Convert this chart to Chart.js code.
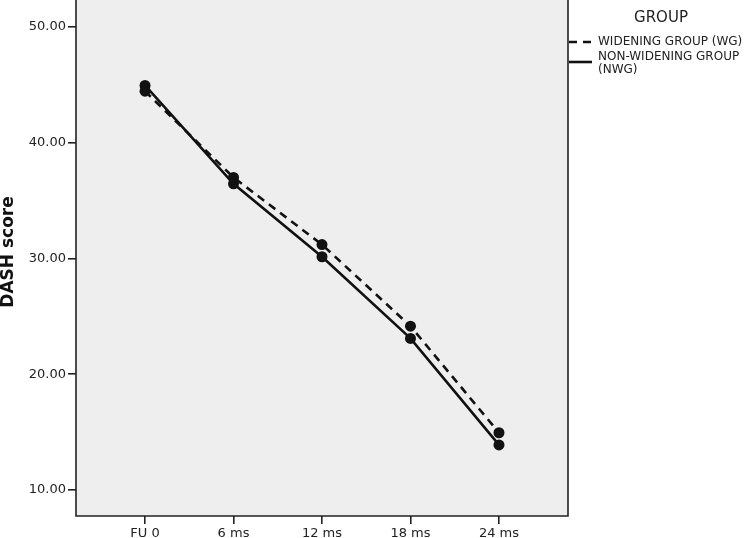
<!DOCTYPE html>
<html><head><meta charset="utf-8">
<script src="https://cdn.jsdelivr.net/npm/chart.js@4"></script>
<style>html,body{margin:0;padding:0;background:#fff}#wrap{width:750px;height:538px}</style>
</head><body><div id="wrap"><canvas id="c" width="750" height="538"></canvas></div>
<script>
const categories = ['FU 0', '6 ms', '12 ms', '18 ms', '24 ms'];
const wgValues = [44.45, 37.0, 31.2, 24.15, 14.95];
const nwgValues = [44.95, 36.45, 30.15, 23.1, 13.9];
const yTicks = [10, 20, 30, 40, 50];
const wgLabel = ['WIDENING GROUP (WG)'];
const nwgLabel = ['NON-WIDENING GROUP', '(NWG)'];
const legendTitle = 'GROUP';
const yTitle = 'DASH score';

const INK = '#222';
const FONT = '"DejaVu Sans", sans-serif';

const bgPlugin = {
  id: 'bg',
  beforeDraw(chart) {
    const a = chart.chartArea, ctx = chart.ctx;
    ctx.save();
    ctx.fillStyle = '#eeeeee';
    ctx.fillRect(a.left, 0, a.right - a.left, a.bottom);
    ctx.restore();
  },
  beforeDatasetsDraw(chart) {
    const a = chart.chartArea, ctx = chart.ctx;
    ctx.save();
    ctx.strokeStyle = INK;
    ctx.lineWidth = 1.6;
    ctx.beginPath();
    ctx.moveTo(a.left, 0);
    ctx.lineTo(a.left, a.bottom);
    ctx.lineTo(a.right, a.bottom);
    ctx.lineTo(a.right, 0);
    ctx.stroke();
    ctx.restore();
  }
};

const decorPlugin = {
  id: 'decor',
  afterDraw(chart) {
    const ctx = chart.ctx, a = chart.chartArea;
    ctx.save();
    ctx.fillStyle = '#111';
    ctx.font = 'bold 17px ' + FONT;
    ctx.textAlign = 'center';
    ctx.textBaseline = 'middle';
    ctx.translate(9, 252);
    ctx.rotate(-Math.PI / 2);
    ctx.fillText(yTitle, 0, 0);
    ctx.restore();

    ctx.save();
    ctx.fillStyle = INK;
    ctx.font = '15px ' + FONT;
    ctx.textAlign = 'center';
    ctx.textBaseline = 'middle';
    ctx.fillText(legendTitle, 661, 18);
    const items = [
      { lines: wgLabel, ds: chart.data.datasets[0], y: 42 },
      { lines: nwgLabel, ds: chart.data.datasets[1], y: 57 }
    ];
    items.forEach(it => {
      const sy = it.lines.length > 1 ? it.y + 5 : it.y;
      ctx.strokeStyle = '#111';
      ctx.lineWidth = 2.6;
      ctx.setLineDash(it.ds.borderDash || []);
      ctx.beginPath();
      ctx.moveTo(a.right + 1, sy);
      ctx.lineTo(a.right + 24, sy);
      ctx.stroke();
      ctx.setLineDash([]);
      ctx.font = '12px ' + FONT;
      ctx.textAlign = 'left';
      it.lines.forEach((ln, k) => ctx.fillText(ln, 598, it.y + k * 13));
    });
    ctx.restore();
  }
};

new Chart(document.getElementById('c'), {
  type: 'line',
  data: {
    datasets: [
      {
        label: wgLabel.join(' '),
        data: categories.map((c, i) => ({ x: i, y: wgValues[i] })),
        borderColor: '#111', backgroundColor: '#111',
        borderWidth: 2.6, borderDash: [8, 6],
        pointRadius: 5.5, pointHoverRadius: 5.5, pointBorderWidth: 0,
        tension: 0, fill: false
      },
      {
        label: nwgLabel.join(' '),
        data: categories.map((c, i) => ({ x: i, y: nwgValues[i] })),
        borderColor: '#111', backgroundColor: '#111',
        borderWidth: 2.6,
        pointRadius: 5.5, pointHoverRadius: 5.5, pointBorderWidth: 0,
        tension: 0, fill: false
      }
    ]
  },
  options: {
    responsive: false,
    animation: false,
    devicePixelRatio: 1,
    layout: { padding: { left: 0, right: 182, top: 0, bottom: 0 } },
    plugins: { legend: { display: false }, tooltip: { enabled: false } },
    scales: {
      x: {
        type: 'linear', min: -0.78, max: 4.78,
        border: { display: false },
        grid: { drawOnChartArea: false, drawTicks: true, tickLength: 8, color: INK, lineWidth: 1.6 },
        ticks: {
          autoSkip: false, maxRotation: 0, padding: 2, color: '#222',
          font: { family: FONT, size: 13 },
          callback: v => categories[v] !== undefined ? categories[v] : ''
        },
        afterBuildTicks: s => { s.ticks = categories.map((c, i) => ({ value: i })); },
        afterFit: s => { s.height = 22; s.paddingLeft = 0; s.paddingRight = 0; }
      },
      y: {
        type: 'linear', min: 7.76, max: 51.85,
        border: { display: false },
        grid: { drawOnChartArea: false, drawTicks: true, tickLength: 8, color: INK, lineWidth: 1.6 },
        ticks: {
          padding: 2, color: '#222',
          font: { family: FONT, size: 13 },
          callback: v => Number(v).toFixed(2)
        },
        afterBuildTicks: s => { s.ticks = yTicks.map(v => ({ value: v })); },
        afterFit: s => { s.width = 76; s.paddingTop = 0; s.paddingBottom = 0; }
      }
    }
  },
  plugins: [bgPlugin, decorPlugin]
});
</script>
</body></html>
